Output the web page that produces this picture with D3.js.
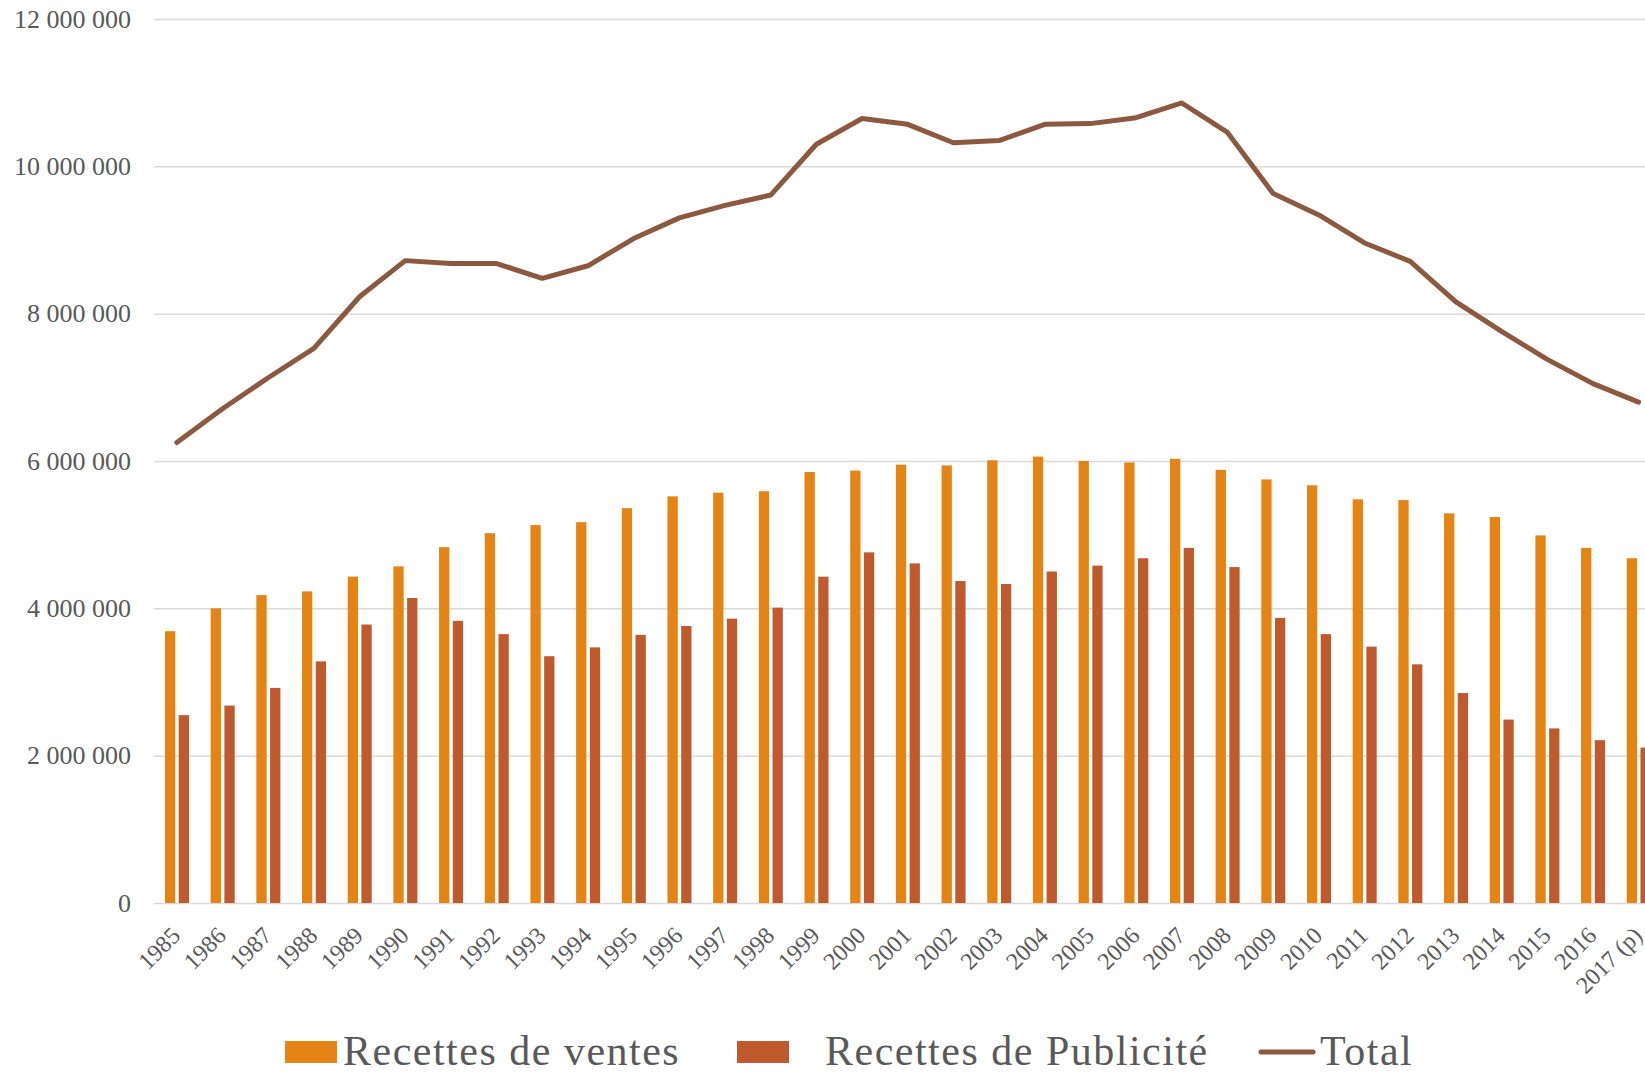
<!DOCTYPE html>
<html lang="fr">
<head>
<meta charset="utf-8">
<script src="https://cdn.jsdelivr.net/npm/d3@7"></script>
<style>
  body { margin: 0; background: #fff; }
  .tick text { fill: #595959; }
</style>
</head>
<body>
<div class="graphique"></div>
<script>
const d = document;

/* Donnees */
const annees = ["1985", "1986", "1987", "1988", "1989", "1990", "1991", "1992", "1993", "1994", "1995", "1996", "1997", "1998", "1999", "2000", "2001", "2002", "2003", "2004", "2005", "2006", "2007", "2008", "2009", "2010", "2011", "2012", "2013", "2014", "2015", "2016", "2017 (p)"];
const ventes = [3690000, 4000000, 4180000, 4230000, 4430000, 4570000, 4830000, 5020000, 5130000, 5170000, 5360000, 5520000, 5570000, 5590000, 5850000, 5870000, 5950000, 5940000, 6010000, 6060000, 6000000, 5980000, 6030000, 5880000, 5750000, 5670000, 5480000, 5470000, 5290000, 5240000, 4990000, 4820000, 4680000];
const publicite = [2550000, 2680000, 2920000, 3280000, 3780000, 4140000, 3830000, 3650000, 3350000, 3470000, 3640000, 3760000, 3860000, 4010000, 4430000, 4760000, 4610000, 4370000, 4330000, 4500000, 4580000, 4680000, 4820000, 4560000, 3870000, 3650000, 3480000, 3240000, 2850000, 2490000, 2370000, 2210000, 2110000];
const total = [6250000, 6710000, 7130000, 7530000, 8230000, 8720000, 8680000, 8680000, 8480000, 8650000, 9020000, 9300000, 9470000, 9610000, 10300000, 10650000, 10570000, 10320000, 10350000, 10570000, 10580000, 10660000, 10860000, 10460000, 9630000, 9340000, 8960000, 8710000, 8160000, 7760000, 7380000, 7050000, 6800000];
const yTicks = [0, 2000000, 4000000, 6000000, 8000000, 10000000, 12000000];
const series = ["Recettes de ventes", "Recettes de Publicité"];
const couleurs = ["#E48414", "#BE5A2D"];
const couleurTotal = "#8B5940";

const largeur = 1645, hauteur = 1072;
const margeG = 154, haut = 19, bas = 903;
const pas = 45.68;

const svg = d3.select(".graphique").append("svg").attr("width", largeur).attr("height", hauteur);

// Echelles
const x0 = d3.scaleBand().domain(annees).range([margeG, margeG + pas * annees.length]);
const x1 = d3.scaleBand().domain(series).range([11, 35]).paddingInner(0.25);
const y = d3.scaleLinear().domain([0, 12000000]).range([bas, haut]);

const fr = d3.formatLocale({ decimal: ",", thousands: " ", grouping: [3], currency: ["", " €"] });

// Grille + axe Y
const axeY = svg
  .append("g")
  .attr("transform", `translate(${margeG},0)`)
  .call(d3.axisLeft(y).tickValues(yTicks).tickFormat(fr.format(",d")).tickSize(-(largeur - margeG)).tickPadding(23));
axeY.select(".domain").remove();
axeY.selectAll(".tick line").attr("stroke", "#d9d9d9").attr("stroke-width", 1.5);
axeY.selectAll(".tick text").style("font-family", "'Liberation Serif', serif").style("font-size", "26px");

// Barres
const groupes = svg
  .append("g")
  .selectAll("g")
  .data(annees)
  .join("g")
  .attr("transform", (a) => `translate(${x0(a)},0)`);

groupes
  .selectAll("rect")
  .data((a, i) => [
    { s: series[0], v: ventes[i], c: couleurs[0] },
    { s: series[1], v: publicite[i], c: couleurs[1] },
  ])
  .join("rect")
  .attr("x", (b) => x1(b.s))
  .attr("width", x1.bandwidth())
  .attr("y", (b) => y(b.v))
  .attr("height", (b) => y(0) - y(b.v))
  .attr("fill", (b) => b.c);

// Ligne du total
const ligne = d3
  .line()
  .x((v, i) => x0(annees[i]) + x0.bandwidth() / 2)
  .y((v) => y(v));

svg
  .append("path")
  .datum(total)
  .attr("d", ligne)
  .attr("fill", "none")
  .attr("stroke", couleurTotal)
  .attr("stroke-width", 5)
  .attr("stroke-linejoin", "round")
  .attr("stroke-linecap", "round");

// Axe X (annees inclinees)
const axeX = svg
  .append("g")
  .attr("transform", `translate(0,${bas})`)
  .call(d3.axisBottom(x0).tickSize(0).tickPadding(0));
axeX.select(".domain").remove();
axeX
  .selectAll(".tick text")
  .attr("text-anchor", "end")
  .attr("transform", "translate(5,34) rotate(-45)")
  .attr("dy", 0)
  .attr("y", 0)
  .style("font-family", "'Liberation Serif', serif")
  .style("font-size", "24px");

// Legende
const legende = [
  { nom: "Recettes de ventes", type: "rect", couleur: couleurs[0], x: 285, tx: 343 },
  { nom: "Recettes de Publicité", type: "rect", couleur: couleurs[1], x: 737, tx: 825 },
  { nom: "Total", type: "line", couleur: couleurTotal, x: 1259, tx: 1320 },
];

const items = svg.append("g").selectAll("g").data(legende).join("g");

items
  .filter((l) => l.type == "rect")
  .append("rect")
  .attr("x", (l) => l.x)
  .attr("y", 1041)
  .attr("width", 52)
  .attr("height", 22)
  .attr("fill", (l) => l.couleur);

items
  .filter((l) => l.type == "line")
  .append("line")
  .attr("x1", (l) => l.x + 2)
  .attr("x2", (l) => l.x + 54)
  .attr("y1", 1052)
  .attr("y2", 1052)
  .attr("stroke", (l) => l.couleur)
  .attr("stroke-width", 5)
  .attr("stroke-linecap", "round");

items
  .append("text")
  .attr("x", (l) => l.tx)
  .attr("y", 1065)
  .attr("fill", "#595959")
  .style("font-family", "'Liberation Serif', serif")
  .style("font-size", "42px")
  .style("letter-spacing", "1.5px")
  .text((l) => l.nom);
</script>
</body>
</html>
